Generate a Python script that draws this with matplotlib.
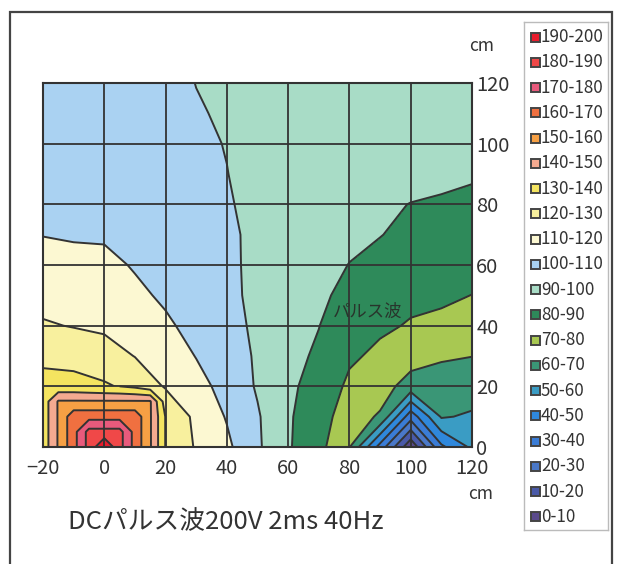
from typing import List

import matplotlib
matplotlib.use('Agg')
import matplotlib.pyplot as plt
from matplotlib.patches import Rectangle
import numpy as np


# grid positions, cm
X_CM = [-20, -10, 0, 10, 20, 30, 40, 50, 60, 70, 80, 90, 100, 110, 120]
Y_CM = [0, 10, 20, 30, 40, 50, 60, 70, 80, 90, 100, 110, 120]

# field values, one row per y (bottom to top)
FIELD_ROWS = [
    [134, 166.5, 199, 166.5, 129.5, 119, 112, 101.5, 91, 83, 70.5, 36, 2, 38, 52],
    [134, 166.5, 166.5, 166.5, 129.5, 117.5, 109.3, 101, 91, 85, 74, 69, 34, 61, 58.5],
    [133, 133, 131, 128, 119, 113, 107, 99, 91.5, 87, 78, 74, 66, 66, 66],
    [128, 127, 125, 119.7, 115, 109.7, 106, 98.5, 93, 88.5, 81.5, 78, 74, 71, 70.1],
    [121, 119.5, 118, 115, 111.5, 107, 105.5, 97, 94, 90.2, 84, 81.5, 79.3, 78, 77.5],
    [116.5, 116.5, 115, 112, 108.5, 106, 104, 96, 95, 92, 87, 84, 82, 81.5, 79.9],
    [113, 113, 112.5, 109.2, 106, 105, 103, 96.5, 95.5, 93, 89.8, 87, 85, 85, 83],
    [109.8, 109, 108.8, 107, 105, 104.5, 102, 97.5, 96, 94, 92, 90.3, 87.5, 87, 86],
    [108, 107, 107, 106, 104.5, 104, 101, 97, 96, 95, 94, 91.5, 89.8, 89, 88],
    [106, 106, 106, 105.5, 104, 103, 100.2, 96.5, 96, 95.5, 95, 94, 93, 92, 91],
    [105, 105, 105, 105, 104, 102, 99.6, 96.5, 96, 96, 95.5, 95, 95, 95, 94],
    [105, 105, 105, 104.5, 104, 101, 98.5, 96.5, 96, 96, 96, 96, 96, 96, 95],
    [105, 105, 105, 104.5, 104, 99.8, 97, 96, 96, 96, 96, 96, 96, 96, 96],
]

# finer 5 cm readings around the hot spot at the origin
PEAK_X = [-20, -15, -10, -5, 0, 5, 10, 15, 20]
PEAK_Y = [0, 5, 10, 15, 20]
PEAK_ROWS = [
    [134, 151, 166.5, 183.5, 199, 183.5, 166.5, 151, 129.5],
    [134, 151, 166.5, 183.5, 183.5, 183.5, 166.5, 151, 129.5],
    [134, 151, 166.5, 166.5, 166.5, 166.5, 166.5, 151, 129.5],
    [134, 151, 151, 151, 151, 151, 151, 151, 125],
    [133, 133, 133, 132, 131, 130, 128, 124, 119],
]

LEVELS = list(range(0, 210, 10))
BAND_COLORS = [
    '#5a4a8c', '#4a5aa8', '#4a78c8', '#3a7cd6', '#2f88dc',
    '#3a9cc4', '#3a9676', '#a8c852', '#2e8a5a', '#a8dcc6',
    '#aad2f2', '#fcf8d2', '#f8f09e', '#f4e460', '#f4aa90',
    '#f6a044', '#f07040', '#e85a7c', '#f04848', '#e81c2c',
]

X_TICKS = [-20, 0, 20, 40, 60, 80, 100, 120]
Y_TICKS = [0, 20, 40, 60, 80, 100, 120]

TITLE = 'DCパルス波200V 2ms 40Hz'
INNER_LABEL = 'パルス波'

W, H = 624, 564
LINE = '#333333'
FONT = ['Noto Sans CJK JP', 'DejaVu Sans']


def fig_box(left: float, top: float, right: float, bottom: float) -> List[float]:
    # pixel box (from top-left) -> figure fraction rect
    return [left / W, (H - bottom) / H, (right - left) / W, (bottom - top) / H]


def fill_and_lines(ax, xs, ys, rows, z0: float):
    xx, yy = np.meshgrid(xs, ys)
    zz = np.array(rows)
    ax.contourf(xx, yy, zz, levels=LEVELS, colors=BAND_COLORS, zorder=z0)
    ax.contour(xx, yy, zz, levels=LEVELS[1:-1], colors=LINE, linewidths=1.4,
               zorder=z0 + 0.05)


def draw_field(ax):
    fill_and_lines(ax, X_CM, Y_CM, FIELD_ROWS, 1.0)
    # peak patch drawn over the coarse grid; its edges sit on grid lines
    fill_and_lines(ax, PEAK_X, PEAK_Y, PEAK_ROWS, 2.1)

    ax.set_xlim(-20, 120)
    ax.set_ylim(0, 120)
    ax.set_xticks(X_TICKS)
    ax.set_yticks(Y_TICKS)
    ax.yaxis.tick_right()
    ax.tick_params(length=0, labelsize=14.5, labelcolor='#333333')
    ax.tick_params(axis='x', pad=8)
    ax.tick_params(axis='y', pad=3)
    for lab in ax.get_xticklabels() + ax.get_yticklabels():
        lab.set_family(FONT)
    ax.set_axisbelow(False)
    ax.grid(True, color=LINE, lw=1.3)
    for sp in ax.spines.values():
        sp.set_color(LINE)
        sp.set_linewidth(1.5)

    ax.text(86, 44.5, INNER_LABEL, ha='center', va='center', fontsize=12.5,
            color='#28352c', family=FONT, zorder=3)


def draw_legend(fig):
    lax = fig.add_axes(fig_box(524, 22, 608, 530))
    lax.set_xlim(524, 608)
    lax.set_ylim(530, 22)
    lax.set_xticks([])
    lax.set_yticks([])
    for sp in lax.spines.values():
        sp.set_color('#bbbbbb')
        sp.set_linewidth(1.0)

    n = len(BAND_COLORS)
    for i in range(n):
        k = n - 1 - i
        yc = 37 + i * 25.26
        lax.add_patch(Rectangle((530.5, yc - 4.5), 9, 9, facecolor=BAND_COLORS[k],
                                edgecolor='#444444', lw=1.4))
        lax.text(541, yc, f'{LEVELS[k]}-{LEVELS[k + 1]}', va='center', ha='left',
                 fontsize=12.3, color='#333333', family=FONT)


def main():
    fig = plt.figure(figsize=(W / 100, H / 100), dpi=100)
    fig.patch.set_facecolor('white')

    ax = fig.add_axes(fig_box(43, 83, 472, 447))
    draw_field(ax)
    draw_legend(fig)

    fig.text(482 / W, (H - 46) / H, 'cm', ha='center', va='center',
             fontsize=12.5, color='#333333', family=FONT)
    fig.text(481 / W, (H - 494) / H, 'cm', ha='center', va='center',
             fontsize=12.5, color='#333333', family=FONT)
    fig.text(68 / W, (H - 522) / H, TITLE, ha='left', va='center',
             fontsize=18.5, color='#333333', family=FONT)

    frame = Rectangle((10 / W, -0.1), (612 - 10) / W, (H - 12) / H + 0.1,
                      transform=fig.transFigure, fill=False,
                      edgecolor='#444444', lw=1.6)
    fig.add_artist(frame)

    fig.savefig('out.png', dpi=100)


if __name__ == '__main__':
    main()
